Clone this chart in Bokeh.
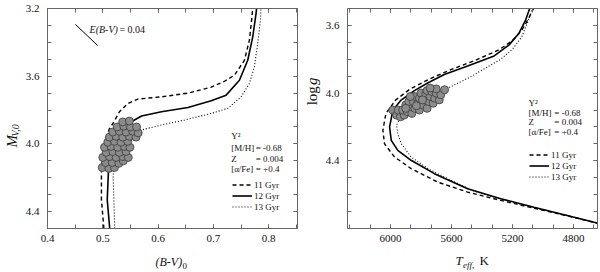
import math
from bokeh.plotting import figure
from bokeh.models import (Range1d, SingleIntervalTicker, LinearAxis, Label, Legend,
                          LegendItem, PrintfTickFormatter, CustomJSTickFormatter)
from bokeh.layouts import row, column
from bokeh.embed import file_html
from bokeh.resources import INLINE

FONT = "Liberation Serif"

# ---------------- Left panel: CMD (B-V)_0 vs M_V,0 ----------------
bv11 = [0.502, 0.4975, 0.4975, 0.500, 0.505, 0.512, 0.5186, 0.530, 0.5456, 0.5637, 0.606, 0.654,
        0.696, 0.720, 0.738, 0.756, 0.765, 0.769, 0.771]
mv11 = [4.50, 4.33, 4.13, 4.05, 3.97, 3.91, 3.878, 3.81, 3.761, 3.735, 3.722, 3.70,
        3.665, 3.63, 3.594, 3.506, 3.388, 3.27, 3.20]
bv12 = [0.5125, 0.508, 0.5106, 0.514, 0.522, 0.535, 0.5516, 0.570, 0.606, 0.654, 0.696, 0.723,
        0.747, 0.762, 0.771, 0.777, 0.778]
mv12 = [4.50, 4.33, 4.13, 4.05, 3.96, 3.90, 3.869, 3.835, 3.81, 3.785, 3.745, 3.712,
        3.624, 3.506, 3.369, 3.231, 3.20]
bv13 = [0.5215, 0.520, 0.5186, 0.522, 0.528, 0.538, 0.555, 0.5697, 0.606, 0.648, 0.696, 0.726,
        0.750, 0.765, 0.774, 0.780, 0.785, 0.786]
mv13 = [4.50, 4.33, 4.19, 4.10, 4.02, 3.96, 3.93, 3.918, 3.888, 3.859, 3.82, 3.79,
        3.722, 3.643, 3.545, 3.408, 3.27, 3.20]

star_bv = [0.499, 0.511, 0.521,
           0.505, 0.517, 0.529, 0.537,
           0.500, 0.512, 0.524, 0.536, 0.546,
           0.506, 0.518, 0.530, 0.542,
           0.503, 0.515, 0.527, 0.539, 0.549,
           0.509, 0.521, 0.533, 0.545,
           0.512, 0.524, 0.536, 0.548, 0.560,
           0.518, 0.530, 0.542, 0.554, 0.564,
           0.526, 0.538, 0.550, 0.561,
           0.536, 0.548]
star_mv = [4.14, 4.145, 4.14,
           4.11, 4.11, 4.115, 4.10,
           4.08, 4.075, 4.08, 4.075, 4.08,
           4.05, 4.045, 4.05, 4.045,
           4.02, 4.015, 4.02, 4.015, 4.02,
           3.99, 3.985, 3.99, 3.985,
           3.96, 3.955, 3.96, 3.955, 3.96,
           3.93, 3.925, 3.93, 3.925, 3.935,
           3.90, 3.895, 3.90, 3.90,
           3.87, 3.865]

ebv_x = [0.4505, 0.4905]
ebv_y = [3.294, 3.418]

# ---------------- Right panel: Teff vs log g ----------------
teff11 = [5060, 5095, 5140, 5200, 5290, 5440, 5600, 5740, 5870, 5965, 6030, 6050, 6039,
          5974, 5865, 5690, 5494, 5276, 5059, 4841, 4645]
logg11 = [3.496, 3.56, 3.63, 3.69, 3.745, 3.805, 3.86, 3.915, 3.975, 4.04, 4.12, 4.22, 4.30,
          4.377, 4.446, 4.526, 4.585, 4.634, 4.680, 4.725, 4.768]
teff12 = [5085, 5113, 5157, 5222, 5320, 5494, 5647, 5756, 5843, 5930, 5984, 6006, 5995,
          5952, 5865, 5712, 5494, 5276, 5059, 4841, 4645]
logg12 = [3.496, 3.567, 3.646, 3.715, 3.78, 3.84, 3.89, 3.94, 3.985, 4.041, 4.10, 4.20, 4.279,
          4.338, 4.397, 4.476, 4.565, 4.624, 4.674, 4.723, 4.768]
teff13 = [5065, 5100, 5140, 5200, 5276, 5473, 5712, 5850, 5930, 5960, 5952, 5930, 5865,
          5756, 5603, 5450, 5260, 5059, 4841, 4645]
logg13 = [3.496, 3.58, 3.67, 3.74, 3.80, 3.903, 4.01, 4.07, 4.13, 4.19, 4.24, 4.298, 4.377,
          4.446, 4.516, 4.58, 4.63, 4.676, 4.723, 4.768]

star_teff = [5985, 5960, 5935, 5910, 5950, 5920, 5890, 5860, 5900, 5870, 5840, 5810, 5880,
             5850, 5820, 5790, 5760, 5840, 5810, 5780, 5750, 5720, 5800, 5770, 5740, 5710,
             5680, 5760, 5730, 5700, 5670, 5645, 5700, 5740, 5790, 5830, 5870, 5900]
star_logg = [4.10, 4.13, 4.14, 4.13, 4.10, 4.10, 4.11, 4.12, 4.07, 4.08, 4.09, 4.10, 4.05,
             4.05, 4.06, 4.07, 4.09, 4.02, 4.03, 4.04, 4.05, 4.06, 4.00, 4.01, 4.02, 4.03,
             4.04, 3.985, 3.99, 4.00, 4.01, 3.98, 3.975, 3.97, 4.04, 4.075, 4.02, 4.09]

ages = ["11 Gyr", "12 Gyr", "13 Gyr"]
param_names = ["[M/H]", "Z", "[\u03b1/Fe]"]
param_values = ["= -0.68", "= 0.004", "= +0.4"]

AX = "#666666"
INK = "#111111"


def empty_axis(ticker):
    return LinearAxis(ticker=ticker, formatter=CustomJSTickFormatter(code="return ''"),
                      major_label_text_font_size="0px", major_label_standoff=0,
                      axis_line_color=AX, major_tick_line_color=AX, minor_tick_line_color=AX,
                      major_tick_in=4, major_tick_out=0, minor_tick_in=4, minor_tick_out=0)


def setup(p, xt, yt, xfmt, yfmt):
    p.grid.visible = False
    p.outline_line_color = None
    for ax, t, f, so in ((p.xaxis[0], xt, xfmt, 6), (p.yaxis[0], yt, yfmt, 8)):
        ax.ticker = t
        ax.formatter = f
        ax.axis_line_color = AX
        ax.major_tick_line_color = AX
        ax.minor_tick_line_color = AX
        ax.major_tick_in = 4
        ax.major_tick_out = 0
        ax.minor_tick_in = 4
        ax.minor_tick_out = 0
        ax.major_label_text_font = FONT
        ax.major_label_text_font_size = "11px"
        ax.major_label_text_color = INK
        ax.major_label_standoff = so
    p.add_layout(empty_axis(xt), "above")
    p.add_layout(empty_axis(yt), "right")


def lab(p, text, x, y, size="9px", style="normal", angle=0.0, align="left",
        baseline="middle"):
    p.add_layout(Label(x=x, y=y, text=text, text_font=FONT, text_font_size=size,
                       text_font_style=style, angle=angle, text_align=align,
                       text_baseline=baseline, text_color=INK))


def make_legend(p, rends, loc):
    leg = Legend(items=[LegendItem(label=a, renderers=[r]) for a, r in zip(ages, rends)],
                 location=loc, orientation="vertical", background_fill_alpha=0,
                 border_line_alpha=0, padding=0, margin=0, spacing=0, glyph_width=20,
                 glyph_height=11, label_height=11, label_standoff=2,
                 label_text_font=FONT, label_text_font_size="9px", label_text_color=INK)
    p.add_layout(leg)


def text_canvas(w, h, x0, x1, y_bottom, y_top):
    """A bare canvas (no axes) whose data units are page pixels, for axis titles."""
    c = figure(width=w, height=h, x_range=Range1d(x0, x1), y_range=Range1d(y_bottom, y_top),
               output_backend="svg", toolbar_location=None, x_axis_location=None,
               y_axis_location=None, min_border=0)
    c.grid.visible = False
    c.outline_line_color = None
    return c


# ---------------- Left figure ----------------
p1 = figure(width=278, height=250, x_range=Range1d(0.4, 0.852), y_range=Range1d(4.5, 3.2),
            output_backend="svg", toolbar_location=None, min_border_left=24,
            min_border_right=3, min_border_top=8, min_border_bottom=22)
setup(p1, SingleIntervalTicker(interval=0.1, num_minor_ticks=2),
      SingleIntervalTicker(interval=0.4, num_minor_ticks=4),
      PrintfTickFormatter(format="%.1f"), PrintfTickFormatter(format="%.1f"))

a11 = p1.line(bv11, mv11, line_color="black", line_width=1.4, line_dash="4 3")
a12 = p1.line(bv12, mv12, line_color="black", line_width=1.6)
a13 = p1.line(bv13, mv13, line_color="black", line_width=1.1, line_dash="1 2")
p1.line(ebv_x, ebv_y, line_color="black", line_width=1)
p1.scatter(star_bv, star_mv, size=8, marker="circle", fill_color="#8c8c8c",
           line_color="#3a3a3a", line_width=0.8)
make_legend(p1, [a11, a12, a13], (185, 16))

lab(p1, "E(B-V)", 0.476, 3.325, size="10px", style="italic")
lab(p1, "= 0.04", 0.530, 3.325, size="10px")
lab(p1, "Y\u00b2", 0.732, 3.956)
for nm, vl, yy in zip(param_names, param_values, [4.022, 4.087, 4.149]):
    lab(p1, nm, 0.732, yy)
    lab(p1, vl, 0.7765, yy)

ylab1 = text_canvas(22, 250, 0, 22, 250, 0)
lab(ylab1, "M", 11, 158, size="15px", style="italic", angle=math.pi / 2)
lab(ylab1, "V,0", 15, 145.5, size="10px", style="italic", angle=math.pi / 2)
xlab1 = text_canvas(300, 22, 0, 300, 272, 250)
lab(xlab1, "(B-V)", 155, 261, size="12px", style="italic")
lab(xlab1, "0", 182, 265, size="9px")

# ---------------- Right figure ----------------
p2 = figure(width=278, height=250, x_range=Range1d(6282, 4642), y_range=Range1d(4.8, 3.5),
            output_backend="svg", toolbar_location=None, min_border_left=24,
            min_border_right=3, min_border_top=8, min_border_bottom=22)
setup(p2, SingleIntervalTicker(interval=400, num_minor_ticks=3),
      SingleIntervalTicker(interval=0.4, num_minor_ticks=4),
      PrintfTickFormatter(format="%d"), PrintfTickFormatter(format="%.1f"))

b11 = p2.line(teff11, logg11, line_color="black", line_width=1.4, line_dash="4 3")
b12 = p2.line(teff12, logg12, line_color="black", line_width=1.6)
b13 = p2.line(teff13, logg13, line_color="black", line_width=1.1, line_dash="1 2")
p2.scatter(star_teff, star_logg, size=8, marker="circle", fill_color="#8c8c8c",
           line_color="#3a3a3a", line_width=0.8)
make_legend(p2, [b11, b12, b13], (182, 46))

lab(p2, "Y\u00b2", 5094, 4.056)
for nm, vl, yy in zip(param_names, param_values, [4.115, 4.171, 4.227]):
    lab(p2, nm, 5094, yy)
    lab(p2, vl, 4925, yy)

ylab2 = text_canvas(22, 250, 300, 322, 250, 0)
lab(ylab2, "log", 311, 110, size="15px", angle=math.pi / 2)
lab(ylab2, "g", 311, 87, size="15px", style="italic", angle=math.pi / 2)
xlab2 = text_canvas(300, 22, 300, 600, 272, 250)
lab(xlab2, "T", 455, 260, size="13px", style="italic")
lab(xlab2, "eff,", 462.5, 264, size="9px", style="italic")
lab(xlab2, "K", 479, 260, size="13px")

layout = row(column(row(ylab1, p1), xlab1), column(row(ylab2, p2), xlab2))
open("out.html", "w").write(file_html(layout, INLINE))
